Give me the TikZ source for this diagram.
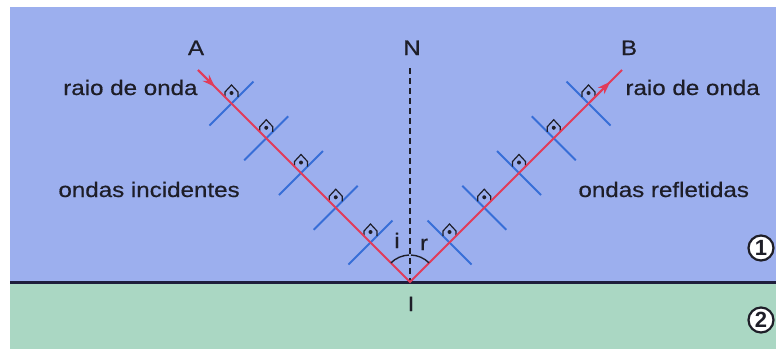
\documentclass[tikz,border=0pt]{standalone}
\usepackage{fontspec}
\setmainfont{Liberation Sans}
\usetikzlibrary{arrows.meta,calc}
\definecolor{meio1}{RGB}{156,175,238}
\definecolor{meio2}{RGB}{170,215,195}
\definecolor{raio}{RGB}{225,60,90}
\definecolor{frente}{RGB}{55,110,215}
\definecolor{tinta}{RGB}{30,30,40}
\definecolor{fronteira}{RGB}{30,30,60}

\begin{document}
\begin{tikzpicture}[x=1pt, y=-1pt, >={Stealth[length=13pt, width=9pt]}, thick,
    rotulo/.style={inner sep=0, text=tinta, xscale=1.15,
        font=\fontsize{21}{24}\selectfont\addfontfeature{FakeBold=0.5}},
    numero/.style={circle, draw=tinta, line width=2.2pt, fill=white, inner sep=0,
        minimum size=25pt, text=tinta, font=\fontsize{22}{24}\selectfont\bfseries}]
    \useasboundingbox (0,0) rectangle (776,349);

    % 介质 1 和 介质 2
    \fill[meio1] (10,7) rectangle (776,282);
    \fill[meio2] (10,282) rectangle (776,349);
    \draw[fronteira, line width=3pt] (10,282) -- (776,282);

    \coordinate (I) at (410,282);
    \coordinate (A0) at (198,70);
    \coordinate (B0) at (622,70);

    % 波前 (入射与反射) 及直角记号
    \foreach \d in {39.5, 74.25, 109, 143.75, 178.5} {
        \draw[frente, line width=1.8pt] (410-\d-22, 282-\d+22) -- (410-\d+22, 282-\d-22);
        \draw[frente, line width=1.8pt] (410+\d-22, 282-\d-22) -- (410+\d+22, 282-\d+22);
        \draw[tinta, line width=1.2pt] (410-\d-6.5, 282-\d-6.5) -- ++(0,-5) -- ++(6.5,-7) -- ++(6.5,7) -- ++(0,5);
        \draw[tinta, line width=1.2pt] (410+\d-6.5, 282-\d-6.5) -- ++(0,-5) -- ++(6.5,-7) -- ++(6.5,7) -- ++(0,5);
        \fill[tinta] (410-\d, 282-\d-10.5) circle (2);
        \fill[tinta] (410+\d, 282-\d-10.5) circle (2);
    }

    % 法线
    \draw[tinta, line width=1.8pt, dash pattern=on 6pt off 4pt] (410,68) -- (I);

    % 入射线与反射线
    \draw[raio, line width=2pt] (A0) -- (I) -- (B0);
    \draw[raio, line width=2pt, ->] (A0) -- ($(A0)!0.08!(I)$);
    \draw[raio, line width=2pt, ->] ($(I)!0.85!(B0)$) -- ($(I)!0.945!(B0)$);

    % 角 i 与 r
    \draw[tinta, line width=1.4pt] ($(I)+(225:27)$) arc[start angle=225, end angle=268, radius=27];
    \draw[tinta, line width=1.4pt] ($(I)+(272:27)$) arc[start angle=272, end angle=315, radius=27];

    % 文字
    \node[rotulo, anchor=base] (A) at (196,55) {A};
    \node[rotulo, anchor=base] (N) at (412,55) {N};
    \node[rotulo, anchor=base] (B) at (629,55) {B};
    \node[rotulo, anchor=base east] (raioA) at (198,95) {raio de onda};
    \node[rotulo, anchor=base west] (raioB) at (625,95) {raio de onda};
    \node[rotulo, anchor=base west] (incid) at (58,197) {ondas incidentes};
    \node[rotulo, anchor=base west] (refl) at (578,197) {ondas refletidas};
    \node[rotulo, anchor=base] (ptI) at (411,311) {I};
    \node[rotulo, anchor=base] (angi) at (397,248) {i};
    \node[rotulo, anchor=base] (angr) at (424,250) {r};

    % 介质编号
    \node[numero] (m1) at (761,248) {1};
    \node[numero] (m2) at (761,320) {2};
\end{tikzpicture}
\end{document}
